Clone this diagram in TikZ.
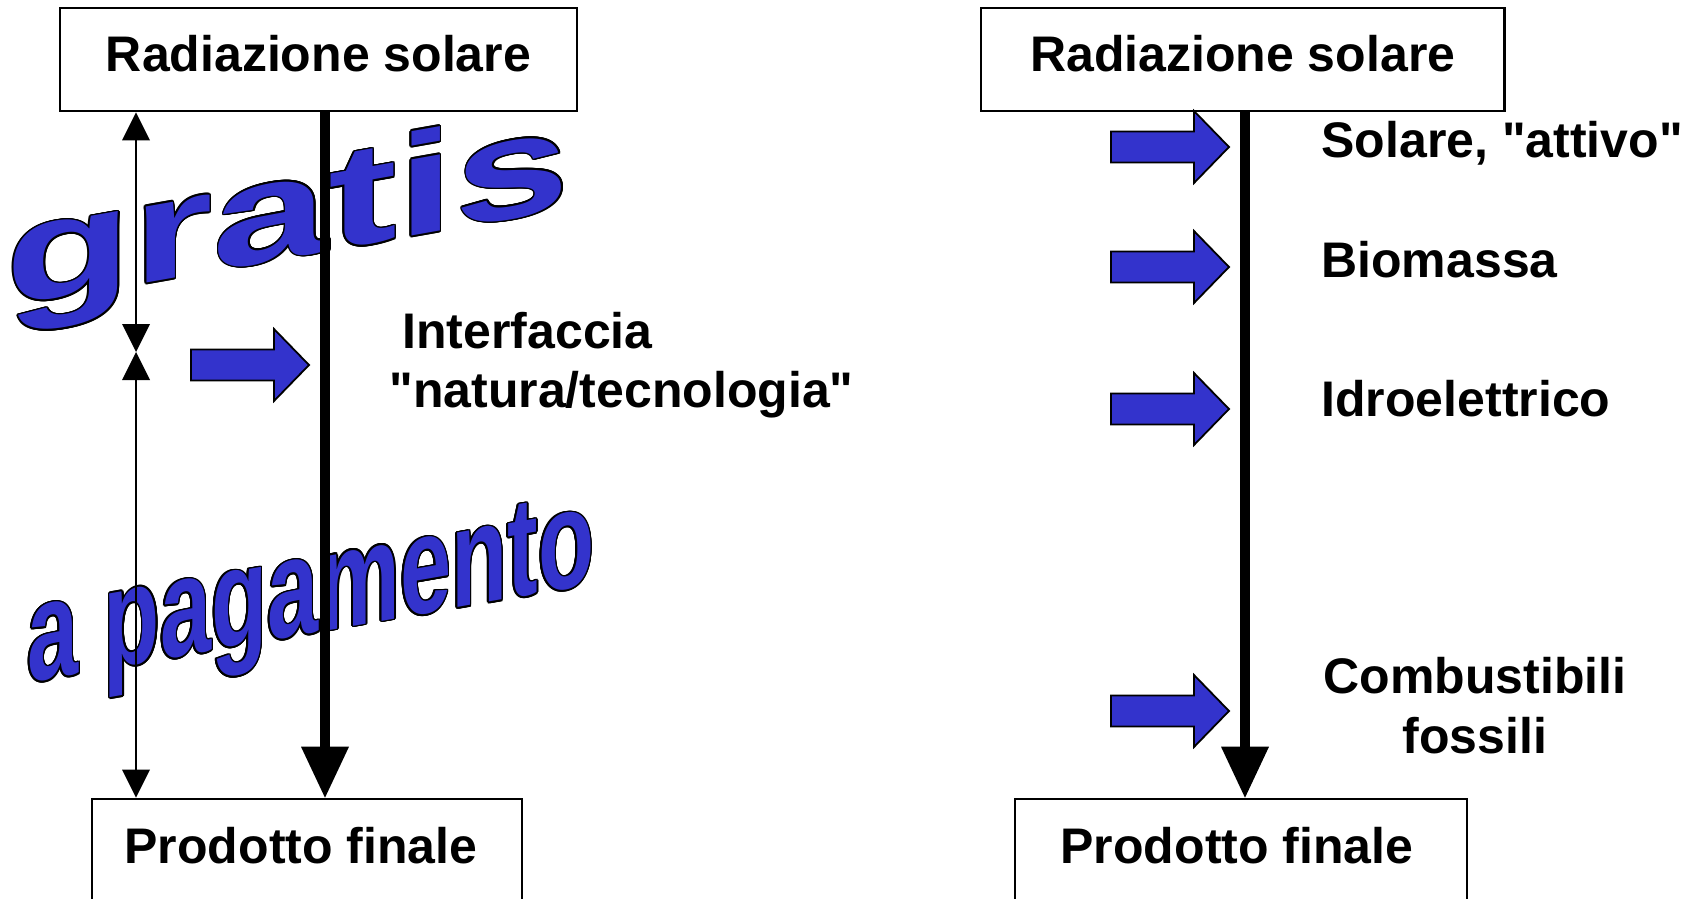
\documentclass[tikz,border=0pt]{standalone}
\usepackage{fontspec}
\setmainfont{Liberation Sans}
\newfontfamily\lsans{Liberation Sans}
\usetikzlibrary{arrows.meta}
\definecolor{wablue}{RGB}{51,51,204}
\begin{document}
\begin{tikzpicture}[x=0.5pt,y=-0.5pt,
  lbl/.style={font=\lsans\bfseries\fontsize{25pt}{30pt}\selectfont, inner sep=0pt},
  boxnode/.style={draw=black, line width=1.3pt, fill=white, inner xsep=0pt, inner ysep=0pt,
    text height=32pt, font=\lsans\bfseries\fontsize{25pt}{30pt}\selectfont},
  mainline/.style={line width=5.2pt, -{Triangle[length=25.5pt,width=24pt,line width=0pt]}},
  dimline/.style={line width=0.9pt,
    {Triangle[length=14pt,width=14pt,line width=0pt]}-{Triangle[length=14pt,width=14pt,line width=0pt]}},
  blockarrow/.style={fill=wablue, draw=black, line width=0.9pt, line join=miter},
  wordart/.style={inner sep=0pt, anchor=base west, transform shape},
  barrow/.pic={\filldraw[blockarrow] (0,-15.5) -- (83,-15.5) -- (83,-36) -- (118,0) -- (83,36) -- (83,15.5) -- (0,15.5) -- cycle;}
]
\useasboundingbox (0,0) rectangle (1698,899);

% boxes
\node[boxnode, minimum width=258.5pt, text depth=19.5pt] (topL) at (318.5,59.5) {Radiazione solare};
\node[boxnode, minimum width=261.75pt, text depth=19.5pt] (topR) at (1242.75,59.5) {Radiazione solare};
\node[boxnode, minimum width=215pt, text depth=23pt] (botL) at (307,854) {\hspace*{-6pt}Prodotto finale};
\node[boxnode, minimum width=226pt, text depth=23pt] (botR) at (1241,854) {\hspace*{-4pt}Prodotto finale};

% WordArt "gratis"
\begin{scope}[shift={(5,308)}]
  \foreach \a in {0,20,...,340}
    \node[wordart, text=black, xshift={0.8pt*cos(\a)}, yshift={0.8pt*sin(\a)}, yslant=0.177, xscale=1.44]
      (go\a) at (0,0) {\lsans\bfseries\fontsize{72pt}{72pt}\selectfont gratis};
  \node[wordart, text=wablue, yslant=0.177, xscale=1.44] (gratis) at (0,0)
    {\lsans\bfseries\fontsize{72pt}{72pt}\selectfont gratis};
\end{scope}

% WordArt "a pagamento"
\begin{scope}[shift={(27,683)}]
  \foreach \a in {0,20,...,340}
    \node[wordart, text=black, xshift={0.8pt*cos(\a)}, yshift={0.8pt*sin(\a)}, yslant=0.175, xscale=0.652]
      (po\a) at (0,0) {\lsans\bfseries\fontsize{70.5pt}{70.5pt}\selectfont a pagamento};
  \node[wordart, text=wablue, yslant=0.175, xscale=0.652] (pagam) at (0,0)
    {\lsans\bfseries\fontsize{70.5pt}{70.5pt}\selectfont a pagamento};
\end{scope}

% main process lines
\coordinate (axL) at (325,0);
\coordinate (axR) at (1245,0);
\draw[mainline] (topL.south -| axL) -- (botL.north -| axL);
\draw[mainline] (topR.south -| axR) -- (botR.north -| axR);

% dimension arrows
\coordinate (dimmid) at (136,352);
\draw[dimline] (topL.south -| dimmid) -- (dimmid);
\draw[dimline] (dimmid) -- (botL.north -| dimmid);

% blue block arrows
\pic (baL) at (191,365) {barrow};
\pic (ba1) at (1111,147) {barrow};
\pic (ba2) at (1111,267) {barrow};
\pic (ba3) at (1111,409) {barrow};
\pic (ba4) at (1111,711) {barrow};

% labels
\node[lbl, anchor=base west] (interf) at (402,348) {Interfaccia};
\node[lbl, anchor=base west] (natec) at (389,407) {"natura/tecnologia"};
\node[lbl, anchor=base west] (solatt) at (1321,157) {Solare, "attivo"};
\node[lbl, anchor=base west] (biom) at (1321,277) {Biomassa};
\node[lbl, anchor=base west] (idro) at (1321,416) {Idroelettrico};
\node[lbl, anchor=base] (comb) at (1475,693) {Combustibili};
\node[lbl, anchor=base] (foss) at (1475,753) {fossili};
\end{tikzpicture}
\end{document}
